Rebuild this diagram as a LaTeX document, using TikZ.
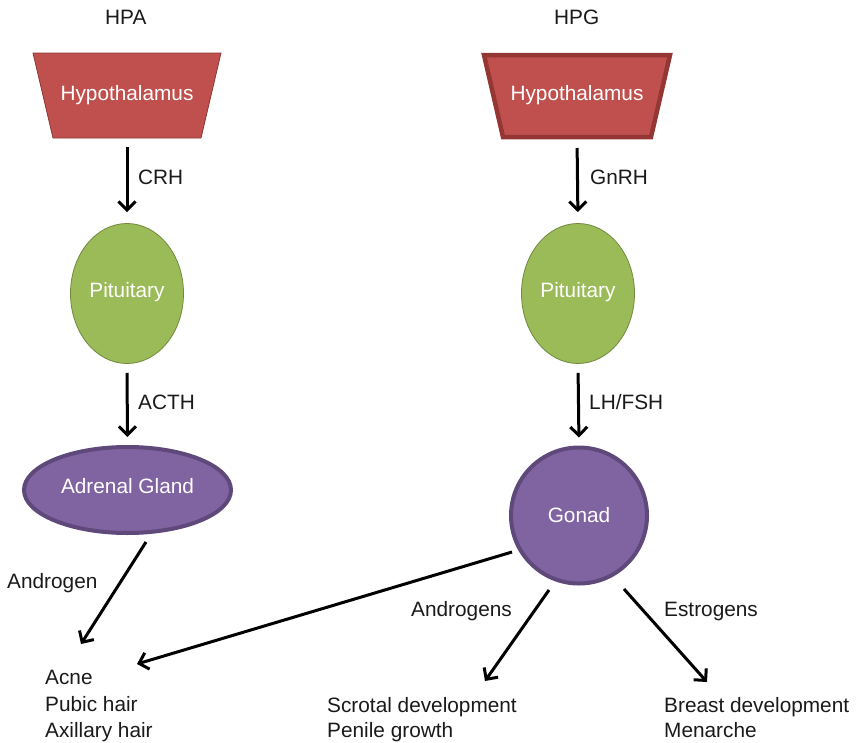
\documentclass[tikz,border=0pt]{standalone}
\usepackage{fontspec}
\setmainfont{Liberation Sans}
\usetikzlibrary{arrows.meta,shapes.geometric,backgrounds}
\definecolor{hred}{HTML}{C0504D}
\definecolor{hredline}{HTML}{8C3836}
\definecolor{hredthick}{HTML}{943634}
\definecolor{pgreen}{HTML}{9BBB59}
\definecolor{pgreenline}{HTML}{71893F}
\definecolor{gpurple}{HTML}{8064A2}
\definecolor{gpurpleline}{HTML}{5F497A}
\definecolor{txt}{HTML}{1A1A1A}
\begin{document}
\begin{tikzpicture}[x=1pt,y=-1pt,
  font=\fontsize{20.8}{25}\selectfont,
  arr/.style={draw=black, line width=3pt, -{Straight Barb[length=8.5pt,width=17pt]}},
  lbl/.style={anchor=base west, inner sep=0pt, text=txt},
  hypo/.style={rectangle, minimum width=188pt, minimum height=85pt,
    text=white, inner sep=0pt, outer sep=0pt, text height=15pt, text depth=6pt},
  hypofill/.style={fill=hred, line join=miter},
  pit/.style={ellipse, fill=pgreen, draw=pgreenline, line width=0.8pt,
    minimum width=113pt, minimum height=140pt, inner sep=0pt,
    text=white, text height=15pt, text depth=8pt},
  adrenal/.style={ellipse, fill=gpurple, draw=gpurpleline, line width=4pt,
    minimum width=207pt, minimum height=86pt, inner sep=0pt,
    text=white, text height=15pt, text depth=9pt},
  gonadstyle/.style={circle, fill=gpurple, draw=gpurpleline, line width=4pt,
    minimum size=136pt, inner sep=0pt,
    text=white, text height=15pt, text depth=2pt}
]
\useasboundingbox (0,0) rectangle (857,742);

% titles
\node[lbl] (hpa) at (105,24) {HPA};
\node[lbl] (hpg) at (554,24) {HPG};

% hypothalamus (trapezoids drawn behind their text nodes)
\node[hypo] (hypL) at (127,95.5) {Hypothalamus};
\node[hypo, minimum width=186pt, minimum height=82pt] (hypR) at (577,96) {Hypothalamus};
\begin{pgfonlayer}{background}
  \draw[hypofill, draw=hredline, line width=0.8pt]
    (hypL.north west) -- (hypL.north east) -- ([xshift=-20pt]hypL.south east)
    -- ([xshift=20pt]hypL.south west) -- cycle;
  \draw[hypofill, draw=hredthick, line width=4.5pt]
    (hypR.north west) -- (hypR.north east) -- ([xshift=-19pt]hypR.south east)
    -- ([xshift=19pt]hypR.south west) -- cycle;
\end{pgfonlayer}

% other main shapes
\node[pit] (pitL) at (127,293.5) {Pituitary};
\node[pit] (pitR) at (578,293.5) {Pituitary};
\node[adrenal] (adr) at (127.5,490) {Adrenal Gland};
\node[gonadstyle] (gon) at (579,515.5) {Gonad};

% vertical arrows
\draw[arr, shorten <=9pt, shorten >=11pt] (hypL.south) -- (pitL.north);
\draw[arr, shorten <=11pt, shorten >=11pt] (hypR.south) -- (pitR.north);
\draw[arr, shorten <=9pt, shorten >=8pt] (pitL.south) -- (adr.north);
\draw[arr, shorten <=9pt, shorten >=8pt] (pitR.south) -- (gon.north);

% arrow labels
\node[lbl] (crh) at (138,184) {CRH};
\node[lbl] (gnrh) at (590,184) {GnRH};
\node[lbl] (acth) at (138,409) {ACTH};
\node[lbl] (lhfsh) at (589,409) {LH/FSH};
\node[lbl] (andr1) at (7,588) {Androgen};
\node[lbl] (andr2) at (411,616) {Androgens};
\node[lbl] (estr) at (664,616) {Estrogens};

% outcome texts
\node[lbl] (acne) at (45,684) {Acne};
\node[lbl] (pubic) at (45,711) {Pubic hair};
\node[lbl] (axil) at (45,737) {Axillary hair};
\node[lbl] (scrot) at (327,712) {Scrotal development};
\node[lbl] (penile) at (327,737) {Penile growth};
\node[lbl] (breast) at (664,712) {Breast development};
\node[lbl] (men) at (664,737) {Menarche};

% diagonal arrow end points
\coordinate (a1s) at (146,542);
\coordinate (a1e) at (81,644);
\coordinate (a2s) at (512,552);
\coordinate (a2e) at (137,664);
\coordinate (a3s) at (549,590);
\coordinate (a3e) at (485,681);
\coordinate (a4s) at (624,589);
\coordinate (a4e) at (707,682);

\draw[arr] (a1s) -- (a1e);
\draw[arr] (a2s) -- (a2e);
\draw[arr] (a3s) -- (a3e);
\draw[arr] (a4s) -- (a4e);
\end{tikzpicture}
\end{document}
